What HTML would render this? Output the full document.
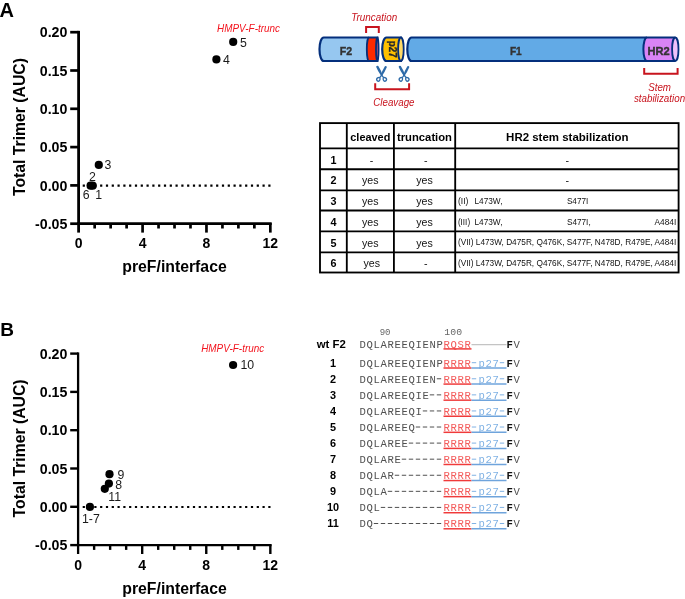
<!DOCTYPE html>
<html><head><meta charset="utf-8"><title>Figure</title>
<style>
html,body{margin:0;padding:0;background:#fff;}
body{width:685px;height:599px;overflow:hidden;}
svg{display:block;font-family:"Liberation Sans", sans-serif;will-change:transform;}
</style></head>
<body>
<svg width="685" height="599" viewBox="0 0 685 599">
<rect width="685" height="599" fill="#fff"/>
<text x="-0.6" y="16.8" font-weight="bold" font-size="20">A</text>
<text x="0.3" y="336" font-weight="bold" font-size="19">B</text>
<g transform="translate(0,0)">
<line x1="70.2" y1="32.20" x2="78.6" y2="32.20" stroke="#000" stroke-width="2.7"/>
<text x="67.4" y="37.40" text-anchor="end" font-weight="bold" font-size="14.2">0.20</text>
<line x1="70.2" y1="70.50" x2="78.6" y2="70.50" stroke="#000" stroke-width="2.7"/>
<text x="67.4" y="75.70" text-anchor="end" font-weight="bold" font-size="14.2">0.15</text>
<line x1="70.2" y1="108.80" x2="78.6" y2="108.80" stroke="#000" stroke-width="2.7"/>
<text x="67.4" y="114.00" text-anchor="end" font-weight="bold" font-size="14.2">0.10</text>
<line x1="70.2" y1="147.10" x2="78.6" y2="147.10" stroke="#000" stroke-width="2.7"/>
<text x="67.4" y="152.30" text-anchor="end" font-weight="bold" font-size="14.2">0.05</text>
<line x1="70.2" y1="185.40" x2="78.6" y2="185.40" stroke="#000" stroke-width="2.7"/>
<text x="67.4" y="190.60" text-anchor="end" font-weight="bold" font-size="14.2">0.00</text>
<line x1="70.2" y1="223.70" x2="78.6" y2="223.70" stroke="#000" stroke-width="2.7"/>
<text x="67.4" y="228.90" text-anchor="end" font-weight="bold" font-size="14.2">-0.05</text>
<line x1="78.6" y1="30.85" x2="78.6" y2="232.6" stroke="#000" stroke-width="2.8"/>
<line x1="77.20" y1="223.7" x2="271.69" y2="223.7" stroke="#000" stroke-width="2.8"/>
<line x1="94.67" y1="223" x2="94.67" y2="228.5" stroke="#000" stroke-width="2.7"/>
<line x1="110.64" y1="223" x2="110.64" y2="228.5" stroke="#000" stroke-width="2.7"/>
<line x1="126.61" y1="223" x2="126.61" y2="228.5" stroke="#000" stroke-width="2.7"/>
<line x1="142.58" y1="223" x2="142.58" y2="232.6" stroke="#000" stroke-width="2.7"/>
<line x1="158.55" y1="223" x2="158.55" y2="228.5" stroke="#000" stroke-width="2.7"/>
<line x1="174.52" y1="223" x2="174.52" y2="228.5" stroke="#000" stroke-width="2.7"/>
<line x1="190.49" y1="223" x2="190.49" y2="228.5" stroke="#000" stroke-width="2.7"/>
<line x1="206.46" y1="223" x2="206.46" y2="232.6" stroke="#000" stroke-width="2.7"/>
<line x1="222.43" y1="223" x2="222.43" y2="228.5" stroke="#000" stroke-width="2.7"/>
<line x1="238.40" y1="223" x2="238.40" y2="228.5" stroke="#000" stroke-width="2.7"/>
<line x1="254.37" y1="223" x2="254.37" y2="228.5" stroke="#000" stroke-width="2.7"/>
<line x1="270.34" y1="223" x2="270.34" y2="232.6" stroke="#000" stroke-width="2.7"/>
<text x="78.70" y="248.4" text-anchor="middle" font-weight="bold" font-size="14">0</text>
<text x="142.58" y="248.4" text-anchor="middle" font-weight="bold" font-size="14">4</text>
<text x="206.46" y="248.4" text-anchor="middle" font-weight="bold" font-size="14">8</text>
<text x="270.34" y="248.4" text-anchor="middle" font-weight="bold" font-size="14">12</text>
<line x1="82.7" y1="185.6" x2="270.5" y2="185.6" stroke="#000" stroke-width="2.2" stroke-dasharray="2.2 3.6"/>
<text x="174.5" y="272.4" text-anchor="middle" font-weight="bold" font-size="16" textLength="104.4" lengthAdjust="spacingAndGlyphs">preF/interface</text>
<text transform="translate(24.8,127) rotate(-90)" text-anchor="middle" font-weight="bold" font-size="15.75">Total Trimer (AUC)</text>
<text x="217" y="31.6" font-style="italic" font-size="10.4" textLength="63" lengthAdjust="spacingAndGlyphs" fill="#f3141e">HMPV-F-trunc</text>
<circle cx="216.4" cy="59.4" r="4.1" fill="#000"/>
<circle cx="233.2" cy="41.9" r="4.1" fill="#000"/>
<circle cx="98.8" cy="164.9" r="4.1" fill="#000"/>
<circle cx="90.6" cy="185.7" r="4.1" fill="#000"/>
<circle cx="92.7" cy="185.7" r="4.1" fill="#000"/>
<text x="240" y="46.5" font-size="12.3" fill="#1a1a1a">5</text>
<text x="223" y="64.2" font-size="12.3" fill="#1a1a1a">4</text>
<text x="104.6" y="168.8" font-size="12.3" fill="#1a1a1a">3</text>
<text x="89" y="181.0" font-size="12.3" fill="#1a1a1a">2</text>
<text x="82.8" y="199.4" font-size="12.3" fill="#1a1a1a">6</text>
<text x="95.2" y="199.4" font-size="12.3" fill="#1a1a1a">1</text>
</g>
<g transform="translate(0,321.4)">
<line x1="70.2" y1="32.20" x2="78.1" y2="32.20" stroke="#000" stroke-width="2.4"/>
<text x="67.4" y="37.40" text-anchor="end" font-weight="bold" font-size="14.2">0.20</text>
<line x1="70.2" y1="70.50" x2="78.1" y2="70.50" stroke="#000" stroke-width="2.4"/>
<text x="67.4" y="75.70" text-anchor="end" font-weight="bold" font-size="14.2">0.15</text>
<line x1="70.2" y1="108.80" x2="78.1" y2="108.80" stroke="#000" stroke-width="2.4"/>
<text x="67.4" y="114.00" text-anchor="end" font-weight="bold" font-size="14.2">0.10</text>
<line x1="70.2" y1="147.10" x2="78.1" y2="147.10" stroke="#000" stroke-width="2.4"/>
<text x="67.4" y="152.30" text-anchor="end" font-weight="bold" font-size="14.2">0.05</text>
<line x1="70.2" y1="185.40" x2="78.1" y2="185.40" stroke="#000" stroke-width="2.4"/>
<text x="67.4" y="190.60" text-anchor="end" font-weight="bold" font-size="14.2">0.00</text>
<line x1="70.2" y1="223.70" x2="78.1" y2="223.70" stroke="#000" stroke-width="2.4"/>
<text x="67.4" y="228.90" text-anchor="end" font-weight="bold" font-size="14.2">-0.05</text>
<line x1="78.1" y1="31.00" x2="78.1" y2="232.6" stroke="#000" stroke-width="2.3"/>
<line x1="76.95" y1="223.7" x2="271.54" y2="223.7" stroke="#000" stroke-width="2.3"/>
<line x1="94.12" y1="223" x2="94.12" y2="228.5" stroke="#000" stroke-width="2.4"/>
<line x1="110.14" y1="223" x2="110.14" y2="228.5" stroke="#000" stroke-width="2.4"/>
<line x1="126.16" y1="223" x2="126.16" y2="228.5" stroke="#000" stroke-width="2.4"/>
<line x1="142.18" y1="223" x2="142.18" y2="232.6" stroke="#000" stroke-width="2.4"/>
<line x1="158.20" y1="223" x2="158.20" y2="228.5" stroke="#000" stroke-width="2.4"/>
<line x1="174.22" y1="223" x2="174.22" y2="228.5" stroke="#000" stroke-width="2.4"/>
<line x1="190.24" y1="223" x2="190.24" y2="228.5" stroke="#000" stroke-width="2.4"/>
<line x1="206.26" y1="223" x2="206.26" y2="232.6" stroke="#000" stroke-width="2.4"/>
<line x1="222.28" y1="223" x2="222.28" y2="228.5" stroke="#000" stroke-width="2.4"/>
<line x1="238.30" y1="223" x2="238.30" y2="228.5" stroke="#000" stroke-width="2.4"/>
<line x1="254.32" y1="223" x2="254.32" y2="228.5" stroke="#000" stroke-width="2.4"/>
<line x1="270.34" y1="223" x2="270.34" y2="232.6" stroke="#000" stroke-width="2.4"/>
<text x="78.10" y="248.4" text-anchor="middle" font-weight="bold" font-size="14">0</text>
<text x="142.18" y="248.4" text-anchor="middle" font-weight="bold" font-size="14">4</text>
<text x="206.26" y="248.4" text-anchor="middle" font-weight="bold" font-size="14">8</text>
<text x="270.34" y="248.4" text-anchor="middle" font-weight="bold" font-size="14">12</text>
<line x1="82.7" y1="185.6" x2="270.5" y2="185.6" stroke="#000" stroke-width="2.2" stroke-dasharray="2.2 3.6"/>
<text x="174.5" y="272.4" text-anchor="middle" font-weight="bold" font-size="16" textLength="104.4" lengthAdjust="spacingAndGlyphs">preF/interface</text>
<text transform="translate(24.8,127) rotate(-90)" text-anchor="middle" font-weight="bold" font-size="15.75">Total Trimer (AUC)</text>
<text x="201.2" y="30.500000000000046" font-style="italic" font-size="10.4" textLength="63" lengthAdjust="spacingAndGlyphs" fill="#f3141e">HMPV-F-trunc</text>
<circle cx="233.1" cy="43.60000000000002" r="4.1" fill="#000"/>
<circle cx="109.5" cy="152.8" r="4.1" fill="#000"/>
<circle cx="108.9" cy="162.20000000000005" r="4.1" fill="#000"/>
<circle cx="104.8" cy="167.40000000000003" r="4.1" fill="#000"/>
<circle cx="89.9" cy="185.5" r="4.1" fill="#000"/>
<text x="240.4" y="48.0" font-size="12.3" fill="#1a1a1a">10</text>
<text x="117.5" y="157.40000000000003" font-size="12.3" fill="#1a1a1a">9</text>
<text x="115.3" y="167.70000000000005" font-size="12.3" fill="#1a1a1a">8</text>
<text x="108.3" y="179.70000000000005" font-size="12.3" fill="#1a1a1a">11</text>
<text x="82" y="202.0" font-size="12.3" fill="#1a1a1a">1-7</text>
</g>
<path d="M323.70,37.5 L377.40,37.5 L377.40,61.0 L323.70,61.0 A4.2,11.75 0 0 1 323.70,37.5 Z" fill="#96c7f0" stroke="none" stroke-width="2.2"/>
<path d="M369,37.5 L377.3,37.5 L377.3,61.0 L369,61.0 A2.2,11.75 0 0 1 369,37.5 Z" fill="#ff2a00" stroke="none"/>
<path d="M323.70,37.5 L377.40,37.5 L377.40,61.0 L323.70,61.0 A4.2,11.75 0 0 1 323.70,37.5 Z" fill="none" stroke="#042f7c" stroke-width="2.2"/>
<path d="M369.0,37.5 A2.2,11.75 0 0 0 369.0,61.0" fill="none" stroke="#042f7c" stroke-width="1.8"/>
<ellipse cx="377.3" cy="49.25" rx="1.3" ry="11.75" fill="#c85a78" stroke="#042f7c" stroke-width="1.8"/>
<text x="345.9" y="55" text-anchor="middle" font-weight="bold" font-size="10.6" fill="#333" stroke="#333" stroke-width="0.35" textLength="12.4" lengthAdjust="spacingAndGlyphs">F2</text>
<path d="M386.40,37.5 L400.90,37.5 L400.90,61.0 L386.40,61.0 A4.2,11.75 0 0 1 386.40,37.5 Z" fill="#ffc000" stroke="#042f7c" stroke-width="2.2"/>
<ellipse cx="400.9" cy="49.25" rx="2.8" ry="11.75" fill="#ffd966" stroke="#042f7c" stroke-width="1.8"/>
<text transform="translate(389.4,49.3) rotate(90)" text-anchor="middle" font-weight="bold" font-size="11" fill="#2a2a2a" stroke="#2a2a2a" stroke-width="0.3" textLength="17" lengthAdjust="spacingAndGlyphs">p27</text>
<path d="M411.50,37.5 L675.30,37.5 L675.30,61.0 L411.50,61.0 A4.2,11.75 0 0 1 411.50,37.5 Z" fill="#62aae6" stroke="none" stroke-width="2.2"/>
<path d="M646.8,37.5 L675.3,37.5 L675.3,61.0 L646.8,61.0 A3.4,11.75 0 0 1 646.8,37.5 Z" fill="#da84f6" stroke="none"/>
<path d="M675.3,37.5 L411.5,37.5 A4.2,11.75 0 0 0 411.5,61.0 L675.3,61.0" fill="none" stroke="#042f7c" stroke-width="2.2"/>
<path d="M646.8,37.5 A3.4,11.75 0 0 0 646.8,61.0" fill="none" stroke="#042f7c" stroke-width="2"/>
<ellipse cx="675.3" cy="49.25" rx="3.2" ry="11.75" fill="#eec0fa" stroke="#042f7c" stroke-width="1.8"/>
<text x="515.8" y="54.7" text-anchor="middle" font-weight="bold" font-size="10.2" fill="#333" stroke="#333" stroke-width="0.35" textLength="11.8" lengthAdjust="spacingAndGlyphs">F1</text>
<text x="658.5" y="54.7" text-anchor="middle" font-weight="bold" font-size="10" fill="#333" stroke="#333" stroke-width="0.35" textLength="22.2" lengthAdjust="spacingAndGlyphs">HR2</text>
<text x="374.2" y="20.8" text-anchor="middle" font-style="italic" font-size="10.2" textLength="45.9" lengthAdjust="spacingAndGlyphs" fill="#c8141e">Truncation</text>
<path d="M366.1,33 V27 H378.8 V33" fill="none" stroke="#c8141e" stroke-width="2"/>
<g transform="translate(381.6,0)" fill="#2d6aa8" stroke="none"><path d="M-5.5,66.8 Q-4.8,65.4 -3.3,66.0 Q-0.4,70.5 1.0,75.2 L2.6,77.4 L1.7,78.0 L-0.5,75.7 Q-3.6,71.6 -5.5,66.8 Z"/><path d="M5.3,67.0 Q4.7,65.6 3.3,66.2 Q0.6,70.6 -0.9,75.2 L-2.4,77.4 L-1.5,78.0 L0.5,75.7 Q3.4,71.7 5.3,67.0 Z"/></g><g transform="translate(381.6,0)" fill="none" stroke="#2d6aa8" stroke-width="1.3"><path d="M-2.2,77.4 Q-4.9,77.4 -5.0,79.6 Q-4.6,81.6 -2.6,81.2 Q-1.2,80.2 -1.6,78.0 Z"/><path d="M2.2,77.4 Q4.9,77.4 5.0,79.6 Q4.6,81.6 2.6,81.2 Q1.2,80.2 1.6,78.0 Z"/></g>
<g transform="translate(404.1,0)" fill="#2d6aa8" stroke="none"><path d="M-5.5,66.8 Q-4.8,65.4 -3.3,66.0 Q-0.4,70.5 1.0,75.2 L2.6,77.4 L1.7,78.0 L-0.5,75.7 Q-3.6,71.6 -5.5,66.8 Z"/><path d="M5.3,67.0 Q4.7,65.6 3.3,66.2 Q0.6,70.6 -0.9,75.2 L-2.4,77.4 L-1.5,78.0 L0.5,75.7 Q3.4,71.7 5.3,67.0 Z"/></g><g transform="translate(404.1,0)" fill="none" stroke="#2d6aa8" stroke-width="1.3"><path d="M-2.2,77.4 Q-4.9,77.4 -5.0,79.6 Q-4.6,81.6 -2.6,81.2 Q-1.2,80.2 -1.6,78.0 Z"/><path d="M2.2,77.4 Q4.9,77.4 5.0,79.6 Q4.6,81.6 2.6,81.2 Q1.2,80.2 1.6,78.0 Z"/></g>
<path d="M375.2,83.2 V89.2 H409.1 V83.2" fill="none" stroke="#c8141e" stroke-width="2"/>
<text x="393.9" y="106.4" text-anchor="middle" font-style="italic" font-size="10.2" textLength="41.2" lengthAdjust="spacingAndGlyphs" fill="#c8141e">Cleavage</text>
<path d="M644.2,68.1 V73.7 H677.6 V68.1" fill="none" stroke="#c8141e" stroke-width="2"/>
<text x="659.6" y="90.7" text-anchor="middle" font-style="italic" font-size="10.3" textLength="22.8" lengthAdjust="spacingAndGlyphs" fill="#c8141e">Stem</text>
<text x="659.5" y="101.9" text-anchor="middle" font-style="italic" font-size="10.3" textLength="51.2" lengthAdjust="spacingAndGlyphs" fill="#c8141e">stabilization</text>
<rect x="320" y="123.1" width="358.6" height="149.4" fill="none" stroke="#000" stroke-width="1.85"/>
<line x1="320" y1="148.4" x2="678.6" y2="148.4" stroke="#000" stroke-width="1.85"/>
<line x1="320" y1="169.2" x2="678.6" y2="169.2" stroke="#000" stroke-width="1.85"/>
<line x1="320" y1="190.3" x2="678.6" y2="190.3" stroke="#000" stroke-width="1.85"/>
<line x1="320" y1="210.5" x2="678.6" y2="210.5" stroke="#000" stroke-width="1.85"/>
<line x1="320" y1="231.4" x2="678.6" y2="231.4" stroke="#000" stroke-width="1.85"/>
<line x1="320" y1="252.4" x2="678.6" y2="252.4" stroke="#000" stroke-width="1.85"/>
<line x1="346.8" y1="123.1" x2="346.8" y2="272.5" stroke="#000" stroke-width="1.85"/>
<line x1="393.9" y1="123.1" x2="393.9" y2="272.5" stroke="#000" stroke-width="1.85"/>
<line x1="455.2" y1="123.1" x2="455.2" y2="272.5" stroke="#000" stroke-width="1.85"/>
<text x="370.3" y="140.8" text-anchor="middle" font-weight="bold" font-size="11.6" textLength="40" lengthAdjust="spacingAndGlyphs">cleaved</text>
<text x="424.5" y="140.8" text-anchor="middle" font-weight="bold" font-size="11.6" textLength="55" lengthAdjust="spacingAndGlyphs">truncation</text>
<text x="567.3" y="140.8" text-anchor="middle" font-weight="bold" font-size="11.6" textLength="122.4" lengthAdjust="spacingAndGlyphs">HR2 stem stabilization</text>
<text x="333.4" y="163.7" text-anchor="middle" font-weight="bold" font-size="10.8">1</text>
<text x="371.6" y="163.7" text-anchor="middle" font-size="10.6" fill="#111">-</text>
<text x="425.8" y="163.7" text-anchor="middle" font-size="10.6" fill="#111">-</text>
<text x="567.3" y="163.7" text-anchor="middle" font-size="10.6" fill="#111">-</text>
<text x="333.4" y="184.4" text-anchor="middle" font-weight="bold" font-size="10.8">2</text>
<text x="370.3" y="184.4" text-anchor="middle" font-size="10.6" fill="#111">yes</text>
<text x="424.5" y="184.4" text-anchor="middle" font-size="10.6" fill="#111">yes</text>
<text x="567.3" y="184.4" text-anchor="middle" font-size="10.6" fill="#111">-</text>
<text x="333.4" y="205.1" text-anchor="middle" font-weight="bold" font-size="10.8">3</text>
<text x="370.3" y="205.1" text-anchor="middle" font-size="10.6" fill="#111">yes</text>
<text x="424.5" y="205.1" text-anchor="middle" font-size="10.6" fill="#111">yes</text>
<text x="333.4" y="225.8" text-anchor="middle" font-weight="bold" font-size="10.8">4</text>
<text x="370.3" y="225.8" text-anchor="middle" font-size="10.6" fill="#111">yes</text>
<text x="424.5" y="225.8" text-anchor="middle" font-size="10.6" fill="#111">yes</text>
<text x="333.4" y="246.5" text-anchor="middle" font-weight="bold" font-size="10.8">5</text>
<text x="370.3" y="246.5" text-anchor="middle" font-size="10.6" fill="#111">yes</text>
<text x="424.5" y="246.5" text-anchor="middle" font-size="10.6" fill="#111">yes</text>
<text x="333.4" y="267.2" text-anchor="middle" font-weight="bold" font-size="10.8">6</text>
<text x="371.8" y="267.2" text-anchor="middle" font-size="10.6" fill="#111">yes</text>
<text x="425.8" y="267.2" text-anchor="middle" font-size="10.6" fill="#111">-</text>
<text x="457.9" y="203.8" font-size="9.4" fill="#111" textLength="10.5" lengthAdjust="spacingAndGlyphs">(II)</text>
<text x="474.5" y="203.8" font-size="9.4" fill="#111" textLength="28" lengthAdjust="spacingAndGlyphs">L473W,</text>
<text x="566.9" y="203.8" font-size="9.4" fill="#111" textLength="21.4" lengthAdjust="spacingAndGlyphs">S477I</text>
<text x="457.9" y="224.5" font-size="9.4" fill="#111" textLength="12.2" lengthAdjust="spacingAndGlyphs">(III)</text>
<text x="474.5" y="224.5" font-size="9.4" fill="#111" textLength="28" lengthAdjust="spacingAndGlyphs">L473W,</text>
<text x="566.9" y="224.5" font-size="9.4" fill="#111" textLength="23.8" lengthAdjust="spacingAndGlyphs">S477I,</text>
<text x="654.5" y="224.5" font-size="9.4" fill="#111" textLength="21.7" lengthAdjust="spacingAndGlyphs">A484I</text>
<text x="457.9" y="245.2" font-size="9.4" fill="#111" textLength="218.3" lengthAdjust="spacingAndGlyphs">(VII) L473W, D475R, Q476K, S477F, N478D, R479E, A484I</text>
<text x="457.9" y="265.9" font-size="9.4" fill="#111" textLength="218.3" lengthAdjust="spacingAndGlyphs">(VII) L473W, D475R, Q476K, S477F, N478D, R479E, A484I</text>
<text x="331.3" y="348.4" text-anchor="middle" font-weight="bold" font-size="11.4">wt F2</text>
<text x="379.7" y="334.9" font-family='"Liberation Mono", monospace' font-size="9" fill="#666" letter-spacing="-0.2">90</text>
<text x="444.3" y="334.9" font-family='"Liberation Mono", monospace' font-size="9.8" fill="#666" letter-spacing="0.1">100</text>
<text x="359.50" y="347.80" font-family='"Liberation Mono", monospace' font-size="10.6" letter-spacing="0.64" fill="#505050" stroke="#fff" stroke-width="0">DQLAREEQIENP</text>
<text x="443.50" y="347.80" font-family='"Liberation Mono", monospace' font-size="10.6" letter-spacing="0.64" fill="#f35a5a" stroke="#fff" stroke-width="0">RQSR</text>
<line x1="443.5" y1="348.9" x2="471.5" y2="348.9" stroke="#f03a3a" stroke-width="1.5"/>
<line x1="471.5" y1="344.7" x2="506.5" y2="344.7" stroke="#c4c4c4" stroke-width="1.3"/>
<text x="506.50" y="347.80" font-family='"Liberation Mono", monospace' font-size="10.6" letter-spacing="0.64" fill="#111" font-weight="bold">F</text>
<text x="513.50" y="347.80" font-family='"Liberation Mono", monospace' font-size="10.6" letter-spacing="0.64" fill="#505050" stroke="#fff" stroke-width="0">V</text>
<text x="333.1" y="366.60" text-anchor="middle" font-weight="bold" font-size="10.9">1</text>
<text x="359.50" y="366.60" font-family='"Liberation Mono", monospace' font-size="10.6" letter-spacing="0.64" fill="#505050" stroke="#fff" stroke-width="0">DQLAREEQIENP</text>
<text x="443.50" y="366.60" font-family='"Liberation Mono", monospace' font-size="10.6" letter-spacing="0.64" fill="#f35a5a" stroke="#fff" stroke-width="0">RRRR</text>
<line x1="471.80" y1="362.70" x2="476.20" y2="362.70" stroke="#80b2e4" stroke-width="1.0" stroke-dasharray="4.4 2.60"/>
<text x="478.50" y="366.60" font-family='"Liberation Mono", monospace' font-size="10.6" letter-spacing="0.64" fill="#80b2e4" stroke="#fff" stroke-width="0">p27</text>
<line x1="499.80" y1="362.70" x2="504.20" y2="362.70" stroke="#80b2e4" stroke-width="1.0" stroke-dasharray="4.4 2.60"/>
<line x1="443.5" y1="368.00" x2="471.5" y2="368.00" stroke="#f03a3a" stroke-width="1.5"/>
<line x1="471.5" y1="368.00" x2="506.5" y2="368.00" stroke="#6fa4dc" stroke-width="1.5"/>
<text x="506.50" y="366.60" font-family='"Liberation Mono", monospace' font-size="10.6" letter-spacing="0.64" fill="#111" font-weight="bold">F</text>
<text x="513.50" y="366.60" font-family='"Liberation Mono", monospace' font-size="10.6" letter-spacing="0.64" fill="#505050" stroke="#fff" stroke-width="0">V</text>
<text x="333.1" y="382.68" text-anchor="middle" font-weight="bold" font-size="10.9">2</text>
<text x="359.50" y="382.68" font-family='"Liberation Mono", monospace' font-size="10.6" letter-spacing="0.64" fill="#505050" stroke="#fff" stroke-width="0">DQLAREEQIEN</text>
<line x1="436.80" y1="378.78" x2="441.20" y2="378.78" stroke="#505050" stroke-width="1.0" stroke-dasharray="4.4 2.60"/>
<text x="443.50" y="382.68" font-family='"Liberation Mono", monospace' font-size="10.6" letter-spacing="0.64" fill="#f35a5a" stroke="#fff" stroke-width="0">RRRR</text>
<line x1="471.80" y1="378.78" x2="476.20" y2="378.78" stroke="#80b2e4" stroke-width="1.0" stroke-dasharray="4.4 2.60"/>
<text x="478.50" y="382.68" font-family='"Liberation Mono", monospace' font-size="10.6" letter-spacing="0.64" fill="#80b2e4" stroke="#fff" stroke-width="0">p27</text>
<line x1="499.80" y1="378.78" x2="504.20" y2="378.78" stroke="#80b2e4" stroke-width="1.0" stroke-dasharray="4.4 2.60"/>
<line x1="443.5" y1="384.08" x2="471.5" y2="384.08" stroke="#f03a3a" stroke-width="1.5"/>
<line x1="471.5" y1="384.08" x2="506.5" y2="384.08" stroke="#6fa4dc" stroke-width="1.5"/>
<text x="506.50" y="382.68" font-family='"Liberation Mono", monospace' font-size="10.6" letter-spacing="0.64" fill="#111" font-weight="bold">F</text>
<text x="513.50" y="382.68" font-family='"Liberation Mono", monospace' font-size="10.6" letter-spacing="0.64" fill="#505050" stroke="#fff" stroke-width="0">V</text>
<text x="333.1" y="398.76" text-anchor="middle" font-weight="bold" font-size="10.9">3</text>
<text x="359.50" y="398.76" font-family='"Liberation Mono", monospace' font-size="10.6" letter-spacing="0.64" fill="#505050" stroke="#fff" stroke-width="0">DQLAREEQIE</text>
<line x1="429.80" y1="394.86" x2="441.20" y2="394.86" stroke="#505050" stroke-width="1.0" stroke-dasharray="4.4 2.60"/>
<text x="443.50" y="398.76" font-family='"Liberation Mono", monospace' font-size="10.6" letter-spacing="0.64" fill="#f35a5a" stroke="#fff" stroke-width="0">RRRR</text>
<line x1="471.80" y1="394.86" x2="476.20" y2="394.86" stroke="#80b2e4" stroke-width="1.0" stroke-dasharray="4.4 2.60"/>
<text x="478.50" y="398.76" font-family='"Liberation Mono", monospace' font-size="10.6" letter-spacing="0.64" fill="#80b2e4" stroke="#fff" stroke-width="0">p27</text>
<line x1="499.80" y1="394.86" x2="504.20" y2="394.86" stroke="#80b2e4" stroke-width="1.0" stroke-dasharray="4.4 2.60"/>
<line x1="443.5" y1="400.16" x2="471.5" y2="400.16" stroke="#f03a3a" stroke-width="1.5"/>
<line x1="471.5" y1="400.16" x2="506.5" y2="400.16" stroke="#6fa4dc" stroke-width="1.5"/>
<text x="506.50" y="398.76" font-family='"Liberation Mono", monospace' font-size="10.6" letter-spacing="0.64" fill="#111" font-weight="bold">F</text>
<text x="513.50" y="398.76" font-family='"Liberation Mono", monospace' font-size="10.6" letter-spacing="0.64" fill="#505050" stroke="#fff" stroke-width="0">V</text>
<text x="333.1" y="414.84" text-anchor="middle" font-weight="bold" font-size="10.9">4</text>
<text x="359.50" y="414.84" font-family='"Liberation Mono", monospace' font-size="10.6" letter-spacing="0.64" fill="#505050" stroke="#fff" stroke-width="0">DQLAREEQI</text>
<line x1="422.80" y1="410.94" x2="441.20" y2="410.94" stroke="#505050" stroke-width="1.0" stroke-dasharray="4.4 2.60"/>
<text x="443.50" y="414.84" font-family='"Liberation Mono", monospace' font-size="10.6" letter-spacing="0.64" fill="#f35a5a" stroke="#fff" stroke-width="0">RRRR</text>
<line x1="471.80" y1="410.94" x2="476.20" y2="410.94" stroke="#80b2e4" stroke-width="1.0" stroke-dasharray="4.4 2.60"/>
<text x="478.50" y="414.84" font-family='"Liberation Mono", monospace' font-size="10.6" letter-spacing="0.64" fill="#80b2e4" stroke="#fff" stroke-width="0">p27</text>
<line x1="499.80" y1="410.94" x2="504.20" y2="410.94" stroke="#80b2e4" stroke-width="1.0" stroke-dasharray="4.4 2.60"/>
<line x1="443.5" y1="416.24" x2="471.5" y2="416.24" stroke="#f03a3a" stroke-width="1.5"/>
<line x1="471.5" y1="416.24" x2="506.5" y2="416.24" stroke="#6fa4dc" stroke-width="1.5"/>
<text x="506.50" y="414.84" font-family='"Liberation Mono", monospace' font-size="10.6" letter-spacing="0.64" fill="#111" font-weight="bold">F</text>
<text x="513.50" y="414.84" font-family='"Liberation Mono", monospace' font-size="10.6" letter-spacing="0.64" fill="#505050" stroke="#fff" stroke-width="0">V</text>
<text x="333.1" y="430.92" text-anchor="middle" font-weight="bold" font-size="10.9">5</text>
<text x="359.50" y="430.92" font-family='"Liberation Mono", monospace' font-size="10.6" letter-spacing="0.64" fill="#505050" stroke="#fff" stroke-width="0">DQLAREEQ</text>
<line x1="415.80" y1="427.02" x2="441.20" y2="427.02" stroke="#505050" stroke-width="1.0" stroke-dasharray="4.4 2.60"/>
<text x="443.50" y="430.92" font-family='"Liberation Mono", monospace' font-size="10.6" letter-spacing="0.64" fill="#f35a5a" stroke="#fff" stroke-width="0">RRRR</text>
<line x1="471.80" y1="427.02" x2="476.20" y2="427.02" stroke="#80b2e4" stroke-width="1.0" stroke-dasharray="4.4 2.60"/>
<text x="478.50" y="430.92" font-family='"Liberation Mono", monospace' font-size="10.6" letter-spacing="0.64" fill="#80b2e4" stroke="#fff" stroke-width="0">p27</text>
<line x1="499.80" y1="427.02" x2="504.20" y2="427.02" stroke="#80b2e4" stroke-width="1.0" stroke-dasharray="4.4 2.60"/>
<line x1="443.5" y1="432.32" x2="471.5" y2="432.32" stroke="#f03a3a" stroke-width="1.5"/>
<line x1="471.5" y1="432.32" x2="506.5" y2="432.32" stroke="#6fa4dc" stroke-width="1.5"/>
<text x="506.50" y="430.92" font-family='"Liberation Mono", monospace' font-size="10.6" letter-spacing="0.64" fill="#111" font-weight="bold">F</text>
<text x="513.50" y="430.92" font-family='"Liberation Mono", monospace' font-size="10.6" letter-spacing="0.64" fill="#505050" stroke="#fff" stroke-width="0">V</text>
<text x="333.1" y="447.00" text-anchor="middle" font-weight="bold" font-size="10.9">6</text>
<text x="359.50" y="447.00" font-family='"Liberation Mono", monospace' font-size="10.6" letter-spacing="0.64" fill="#505050" stroke="#fff" stroke-width="0">DQLAREE</text>
<line x1="408.80" y1="443.10" x2="441.20" y2="443.10" stroke="#505050" stroke-width="1.0" stroke-dasharray="4.4 2.60"/>
<text x="443.50" y="447.00" font-family='"Liberation Mono", monospace' font-size="10.6" letter-spacing="0.64" fill="#f35a5a" stroke="#fff" stroke-width="0">RRRR</text>
<line x1="471.80" y1="443.10" x2="476.20" y2="443.10" stroke="#80b2e4" stroke-width="1.0" stroke-dasharray="4.4 2.60"/>
<text x="478.50" y="447.00" font-family='"Liberation Mono", monospace' font-size="10.6" letter-spacing="0.64" fill="#80b2e4" stroke="#fff" stroke-width="0">p27</text>
<line x1="499.80" y1="443.10" x2="504.20" y2="443.10" stroke="#80b2e4" stroke-width="1.0" stroke-dasharray="4.4 2.60"/>
<line x1="443.5" y1="448.40" x2="471.5" y2="448.40" stroke="#f03a3a" stroke-width="1.5"/>
<line x1="471.5" y1="448.40" x2="506.5" y2="448.40" stroke="#6fa4dc" stroke-width="1.5"/>
<text x="506.50" y="447.00" font-family='"Liberation Mono", monospace' font-size="10.6" letter-spacing="0.64" fill="#111" font-weight="bold">F</text>
<text x="513.50" y="447.00" font-family='"Liberation Mono", monospace' font-size="10.6" letter-spacing="0.64" fill="#505050" stroke="#fff" stroke-width="0">V</text>
<text x="333.1" y="463.08" text-anchor="middle" font-weight="bold" font-size="10.9">7</text>
<text x="359.50" y="463.08" font-family='"Liberation Mono", monospace' font-size="10.6" letter-spacing="0.64" fill="#505050" stroke="#fff" stroke-width="0">DQLARE</text>
<line x1="401.80" y1="459.18" x2="441.20" y2="459.18" stroke="#505050" stroke-width="1.0" stroke-dasharray="4.4 2.60"/>
<text x="443.50" y="463.08" font-family='"Liberation Mono", monospace' font-size="10.6" letter-spacing="0.64" fill="#f35a5a" stroke="#fff" stroke-width="0">RRRR</text>
<line x1="471.80" y1="459.18" x2="476.20" y2="459.18" stroke="#80b2e4" stroke-width="1.0" stroke-dasharray="4.4 2.60"/>
<text x="478.50" y="463.08" font-family='"Liberation Mono", monospace' font-size="10.6" letter-spacing="0.64" fill="#80b2e4" stroke="#fff" stroke-width="0">p27</text>
<line x1="499.80" y1="459.18" x2="504.20" y2="459.18" stroke="#80b2e4" stroke-width="1.0" stroke-dasharray="4.4 2.60"/>
<line x1="443.5" y1="464.48" x2="471.5" y2="464.48" stroke="#f03a3a" stroke-width="1.5"/>
<line x1="471.5" y1="464.48" x2="506.5" y2="464.48" stroke="#6fa4dc" stroke-width="1.5"/>
<text x="506.50" y="463.08" font-family='"Liberation Mono", monospace' font-size="10.6" letter-spacing="0.64" fill="#111" font-weight="bold">F</text>
<text x="513.50" y="463.08" font-family='"Liberation Mono", monospace' font-size="10.6" letter-spacing="0.64" fill="#505050" stroke="#fff" stroke-width="0">V</text>
<text x="333.1" y="479.16" text-anchor="middle" font-weight="bold" font-size="10.9">8</text>
<text x="359.50" y="479.16" font-family='"Liberation Mono", monospace' font-size="10.6" letter-spacing="0.64" fill="#505050" stroke="#fff" stroke-width="0">DQLAR</text>
<line x1="394.80" y1="475.26" x2="441.20" y2="475.26" stroke="#505050" stroke-width="1.0" stroke-dasharray="4.4 2.60"/>
<text x="443.50" y="479.16" font-family='"Liberation Mono", monospace' font-size="10.6" letter-spacing="0.64" fill="#f35a5a" stroke="#fff" stroke-width="0">RRRR</text>
<line x1="471.80" y1="475.26" x2="476.20" y2="475.26" stroke="#80b2e4" stroke-width="1.0" stroke-dasharray="4.4 2.60"/>
<text x="478.50" y="479.16" font-family='"Liberation Mono", monospace' font-size="10.6" letter-spacing="0.64" fill="#80b2e4" stroke="#fff" stroke-width="0">p27</text>
<line x1="499.80" y1="475.26" x2="504.20" y2="475.26" stroke="#80b2e4" stroke-width="1.0" stroke-dasharray="4.4 2.60"/>
<line x1="443.5" y1="480.56" x2="471.5" y2="480.56" stroke="#f03a3a" stroke-width="1.5"/>
<line x1="471.5" y1="480.56" x2="506.5" y2="480.56" stroke="#6fa4dc" stroke-width="1.5"/>
<text x="506.50" y="479.16" font-family='"Liberation Mono", monospace' font-size="10.6" letter-spacing="0.64" fill="#111" font-weight="bold">F</text>
<text x="513.50" y="479.16" font-family='"Liberation Mono", monospace' font-size="10.6" letter-spacing="0.64" fill="#505050" stroke="#fff" stroke-width="0">V</text>
<text x="333.1" y="495.24" text-anchor="middle" font-weight="bold" font-size="10.9">9</text>
<text x="359.50" y="495.24" font-family='"Liberation Mono", monospace' font-size="10.6" letter-spacing="0.64" fill="#505050" stroke="#fff" stroke-width="0">DQLA</text>
<line x1="387.80" y1="491.34" x2="441.20" y2="491.34" stroke="#505050" stroke-width="1.0" stroke-dasharray="4.4 2.60"/>
<text x="443.50" y="495.24" font-family='"Liberation Mono", monospace' font-size="10.6" letter-spacing="0.64" fill="#f35a5a" stroke="#fff" stroke-width="0">RRRR</text>
<line x1="471.80" y1="491.34" x2="476.20" y2="491.34" stroke="#80b2e4" stroke-width="1.0" stroke-dasharray="4.4 2.60"/>
<text x="478.50" y="495.24" font-family='"Liberation Mono", monospace' font-size="10.6" letter-spacing="0.64" fill="#80b2e4" stroke="#fff" stroke-width="0">p27</text>
<line x1="499.80" y1="491.34" x2="504.20" y2="491.34" stroke="#80b2e4" stroke-width="1.0" stroke-dasharray="4.4 2.60"/>
<line x1="443.5" y1="496.64" x2="471.5" y2="496.64" stroke="#f03a3a" stroke-width="1.5"/>
<line x1="471.5" y1="496.64" x2="506.5" y2="496.64" stroke="#6fa4dc" stroke-width="1.5"/>
<text x="506.50" y="495.24" font-family='"Liberation Mono", monospace' font-size="10.6" letter-spacing="0.64" fill="#111" font-weight="bold">F</text>
<text x="513.50" y="495.24" font-family='"Liberation Mono", monospace' font-size="10.6" letter-spacing="0.64" fill="#505050" stroke="#fff" stroke-width="0">V</text>
<text x="333.1" y="511.32" text-anchor="middle" font-weight="bold" font-size="10.9">10</text>
<text x="359.50" y="511.32" font-family='"Liberation Mono", monospace' font-size="10.6" letter-spacing="0.64" fill="#505050" stroke="#fff" stroke-width="0">DQL</text>
<line x1="380.80" y1="507.42" x2="441.20" y2="507.42" stroke="#505050" stroke-width="1.0" stroke-dasharray="4.4 2.60"/>
<text x="443.50" y="511.32" font-family='"Liberation Mono", monospace' font-size="10.6" letter-spacing="0.64" fill="#f35a5a" stroke="#fff" stroke-width="0">RRRR</text>
<line x1="471.80" y1="507.42" x2="476.20" y2="507.42" stroke="#80b2e4" stroke-width="1.0" stroke-dasharray="4.4 2.60"/>
<text x="478.50" y="511.32" font-family='"Liberation Mono", monospace' font-size="10.6" letter-spacing="0.64" fill="#80b2e4" stroke="#fff" stroke-width="0">p27</text>
<line x1="499.80" y1="507.42" x2="504.20" y2="507.42" stroke="#80b2e4" stroke-width="1.0" stroke-dasharray="4.4 2.60"/>
<line x1="443.5" y1="512.72" x2="471.5" y2="512.72" stroke="#f03a3a" stroke-width="1.5"/>
<line x1="471.5" y1="512.72" x2="506.5" y2="512.72" stroke="#6fa4dc" stroke-width="1.5"/>
<text x="506.50" y="511.32" font-family='"Liberation Mono", monospace' font-size="10.6" letter-spacing="0.64" fill="#111" font-weight="bold">F</text>
<text x="513.50" y="511.32" font-family='"Liberation Mono", monospace' font-size="10.6" letter-spacing="0.64" fill="#505050" stroke="#fff" stroke-width="0">V</text>
<text x="333.1" y="527.40" text-anchor="middle" font-weight="bold" font-size="10.9">11</text>
<text x="359.50" y="527.40" font-family='"Liberation Mono", monospace' font-size="10.6" letter-spacing="0.64" fill="#505050" stroke="#fff" stroke-width="0">DQ</text>
<line x1="373.80" y1="523.50" x2="441.20" y2="523.50" stroke="#505050" stroke-width="1.0" stroke-dasharray="4.4 2.60"/>
<text x="443.50" y="527.40" font-family='"Liberation Mono", monospace' font-size="10.6" letter-spacing="0.64" fill="#f35a5a" stroke="#fff" stroke-width="0">RRRR</text>
<line x1="471.80" y1="523.50" x2="476.20" y2="523.50" stroke="#80b2e4" stroke-width="1.0" stroke-dasharray="4.4 2.60"/>
<text x="478.50" y="527.40" font-family='"Liberation Mono", monospace' font-size="10.6" letter-spacing="0.64" fill="#80b2e4" stroke="#fff" stroke-width="0">p27</text>
<line x1="499.80" y1="523.50" x2="504.20" y2="523.50" stroke="#80b2e4" stroke-width="1.0" stroke-dasharray="4.4 2.60"/>
<line x1="443.5" y1="528.80" x2="471.5" y2="528.80" stroke="#f03a3a" stroke-width="1.5"/>
<line x1="471.5" y1="528.80" x2="506.5" y2="528.80" stroke="#6fa4dc" stroke-width="1.5"/>
<text x="506.50" y="527.40" font-family='"Liberation Mono", monospace' font-size="10.6" letter-spacing="0.64" fill="#111" font-weight="bold">F</text>
<text x="513.50" y="527.40" font-family='"Liberation Mono", monospace' font-size="10.6" letter-spacing="0.64" fill="#505050" stroke="#fff" stroke-width="0">V</text>
</svg>
</body></html>
